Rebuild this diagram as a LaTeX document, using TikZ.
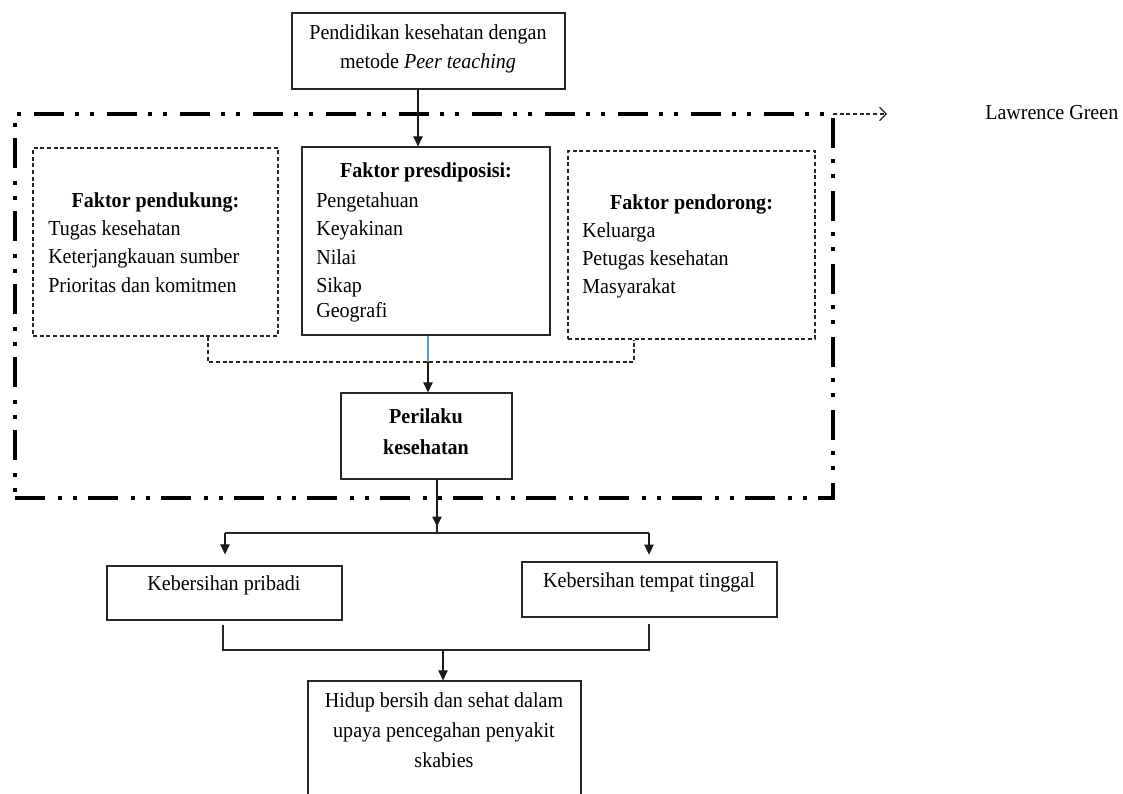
\documentclass[tikz,border=0pt]{standalone}
\usepackage{fontspec}
\setmainfont{Liberation Serif}[FakeStretch=0.94]
\usetikzlibrary{arrows.meta,fit}
\begin{document}
\begin{tikzpicture}[x=0.75pt,y=-0.75pt,
  box/.style={draw=black!85, line width=0.9pt, inner sep=0pt},
  dbox/.style={draw=black!85, line width=0.8pt, dash pattern=on 3pt off 2pt, inner sep=0pt},
  txt/.style={anchor=base west, inner sep=0pt, font=\fontsize{16}{20}\selectfont},
  btxtl/.style={anchor=base west, inner sep=0pt, font=\fontsize{16}{20}\selectfont\bfseries},
  ctxt/.style={anchor=base, inner sep=0pt, font=\fontsize{16}{20}\selectfont},
  btxt/.style={anchor=base, inner sep=0pt, font=\fontsize{16}{20}\selectfont\bfseries},
  arr/.style={draw=black!90, line width=0.8pt, -{Triangle[width=7pt,length=7.5pt]}},
  conn/.style={draw=black!85, line width=0.9pt},
  dconn/.style={draw=black!85, line width=0.8pt, dash pattern=on 3pt off 2pt},
  blueline/.style={draw={rgb,255:red,91;green,155;blue,213}, line width=0.8pt},
  frame/.style={draw=black, line width=2.4pt, inner sep=0pt, outer sep=0pt,
    dash pattern=on 22.5pt off 9.75pt on 3pt off 8.25pt on 3pt off 8.25pt},
]
\useasboundingbox (0,0) rectangle (1123,793);

% top box
\node[box, fit={(292,13)(565,89)}] (top) {};
\node[ctxt] (t1) at (428,39) {Pendidikan kesehatan dengan};
\node[ctxt] (t2) at (428,68) {metode \textit{Peer teaching}};

% big dash-dot frame
\node[frame, fit={(15,114)(833,498)}] (frame) {};
\coordinate (lgend) at (887,114);
\draw[dconn, -{Straight Barb[length=5pt,width=10pt,line width=0.9pt]}] (frame.north east) -- (lgend);
\node[txt] (lg) at (985,119) {Lawrence Green};

% left dashed box
\node[dbox, fit={(33,148)(278,336)}] (dukung) {};
\node[btxt] (d0) at (155.5,207) {Faktor pendukung:};
\node[txt] (d1) at (48,235) {Tugas kesehatan};
\node[txt] (d2) at (48,263) {Keterjangkauan sumber};
\node[txt] (d3) at (48,292) {Prioritas dan komitmen};

% middle box
\node[box, fit={(302,147)(550,335)}] (pres) {};
\node[btxt] (p0) at (426,177) {Faktor presdiposisi:};
\node[txt] (p1) at (316,207) {Pengetahuan};
\node[txt] (p2) at (316,235) {Keyakinan};
\node[txt] (p3) at (316,264) {Nilai};
\node[txt] (p4) at (316,292) {Sikap};
\node[txt] (p5) at (316,317) {Geografi};

% right dashed box
\node[dbox, fit={(568,151)(815,339)}] (dorong) {};
\node[btxt] (r0) at (691.5,209) {Faktor pendorong:};
\node[txt] (r1) at (582,237) {Keluarga};
\node[txt] (r2) at (582,265) {Petugas kesehatan};
\node[txt] (r3) at (582,293) {Masyarakat};

% perilaku
\node[box, fit={(341,393)(512,479)}] (perilaku) {};
\node[btxt] (k1) at (426,423) {Perilaku};
\node[btxt] (k2) at (426,454) {kesehatan};

% lower boxes
\node[box, fit={(107,566)(342,620)}] (pribadi) {};
\node[ctxt] (b1) at (224,590) {Kebersihan pribadi};
\node[box, fit={(522,562)(777,617)}] (tempat) {};
\node[ctxt] (b2) at (649,587) {Kebersihan tempat tinggal};

\node[box, fit={(308,681)(581,812)}] (hidup) {};
\node[ctxt] (h1) at (444,707) {Hidup bersih dan sehat dalam};
\node[ctxt] (h2) at (444,737) {upaya pencegahan penyakit};
\node[ctxt] (h3) at (444,767) {skabies};

% connectors
\coordinate (xa) at (418,0);
\draw[arr] (top.south -| xa) -- (pres.north -| xa);

\coordinate (dj) at (428,362);
\coordinate (xl) at (208,0);
\coordinate (xr) at (634,0);
\draw[dconn] (dukung.south -| xl) |- (dj) -| (dorong.south -| xr);
\draw[blueline] (pres.south -| dj) -- (dj);
\draw[arr] (dj) -- (perilaku.north -| dj);

\coordinate (sj) at (437,533);
\coordinate (sl) at (225,533);
\coordinate (sr) at (649,533);
\draw[conn] (perilaku.south -| sj) -- (sj);
\draw[arr] (perilaku.south -| sj) -- ++(0,47);
\draw[conn] (sl) -- (sr);
\draw[arr, shorten >=8.25pt] (sl) -- (pribadi.north -| sl);
\draw[arr, shorten >=5pt] (sr) -- (tempat.north -| sr);

\coordinate (bj) at (443,650);
\coordinate (bl) at (223,0);
\coordinate (br) at (649,0);
\draw[conn, shorten <=3pt, shorten >=5pt] (pribadi.south -| bl) |- (bj) -| (tempat.south -| br);
\draw[arr] (bj) -- (hidup.north -| bj);
\end{tikzpicture}
\end{document}
